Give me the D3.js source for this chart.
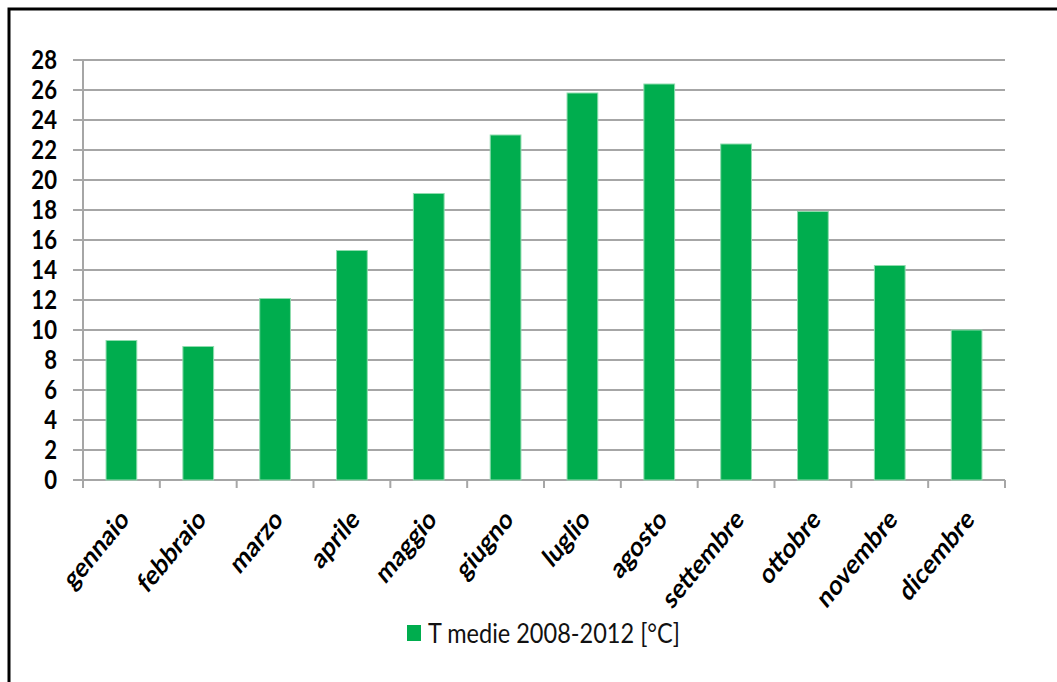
<!DOCTYPE html>
<html>
<head>
<meta charset="utf-8">
<script src="https://cdn.jsdelivr.net/npm/d3@7"></script>
<style>
  body { margin: 0; background: #fff; }
  svg { display: block; }
</style>
</head>
<body>
<svg id="chart" width="1057" height="682"></svg>
<script>
// Monthly mean temperatures, 2008-2012
const months = ["gennaio", "febbraio", "marzo", "aprile", "maggio", "giugno",
                "luglio", "agosto", "settembre", "ottobre", "novembre", "dicembre"];
const temps = [9.3, 8.9, 12.1, 15.3, 19.1, 23.0, 25.8, 26.4, 22.4, 17.9, 14.3, 10.0];
const yTicks = [0, 2, 4, 6, 8, 10, 12, 14, 16, 18, 20, 22, 24, 26, 28];
const seriesName = "T medie 2008-2012 [°C]";

const svg = d3.select("#chart");
const plot = { left: 83, right: 1005, top: 60, bottom: 480 };
const green = "#00ad4e";
const grid = "#a6a6a6";
const squeeze = 0.82; // narrow glyphs horizontally

const x = d3.scaleBand()
  .domain(months)
  .range([plot.left, plot.right])
  .paddingInner(0.6)
  .paddingOuter(0.3);

const y = d3.scaleLinear()
  .domain([0, 28])
  .range([plot.bottom, plot.top]);

// frame
svg.append("rect")
  .attr("x", 9).attr("y", 9)
  .attr("width", 1200).attr("height", 1000)
  .attr("fill", "none").attr("stroke", "#000").attr("stroke-width", 3);

// horizontal gridlines with left tick marks
svg.append("g").selectAll("line")
  .data(yTicks)
  .join("line")
  .attr("x1", plot.left - 10).attr("x2", plot.right)
  .attr("y1", d => y(d)).attr("y2", d => y(d))
  .attr("stroke", grid).attr("stroke-width", 2);

// value axis line
svg.append("line")
  .attr("x1", plot.left).attr("x2", plot.left)
  .attr("y1", y(28)).attr("y2", y(0) + 8)
  .attr("stroke", grid).attr("stroke-width", 2);

// category tick marks at band boundaries
const step = x.step();
const bounds = d3.range(months.length + 1).map(i => plot.left + i * step);
svg.append("g").selectAll("line")
  .data(bounds)
  .join("line")
  .attr("x1", d => d).attr("x2", d => d)
  .attr("y1", y(0)).attr("y2", y(0) + 8)
  .attr("stroke", grid).attr("stroke-width", 2);

// y tick labels
svg.append("g").selectAll("text")
  .data(yTicks)
  .join("text")
  .attr("transform", d => `translate(57,${y(d) + 9}) scale(${squeeze},1)`)
  .attr("text-anchor", "end")
  .attr("font-family", "Lato, 'Open Sans', sans-serif")
  .attr("font-weight", 700)
  .attr("font-size", 27)
  .attr("fill", "#000")
  .text(d => d);

// bars
svg.append("g").selectAll("rect")
  .data(months.map((m, i) => ({ m, v: temps[i] })))
  .join("rect")
  .attr("x", d => x(d.m))
  .attr("y", d => y(d.v))
  .attr("width", x.bandwidth())
  .attr("height", d => y(0) - y(d.v))
  .attr("fill", green)
  .attr("stroke", "#8fdcae")
  .attr("stroke-width", 1);

// category labels, rotated
svg.append("g").selectAll("text")
  .data(months)
  .join("text")
  .attr("transform", d => `translate(${x(d) + x.bandwidth() / 2 + 9},${plot.bottom + 41}) scale(${squeeze},1) rotate(-45)`)
  .attr("text-anchor", "end")
  .attr("font-family", "Lato, 'Open Sans', sans-serif")
  .attr("font-weight", 700)
  .attr("font-size", 28)
  .attr("fill", "#000")
  .text(d => d);

// legend
const legend = svg.append("g");
legend.append("rect")
  .attr("x", 407).attr("y", 625)
  .attr("width", 14).attr("height", 16)
  .attr("fill", green);
legend.append("text")
  .attr("x", 428).attr("y", 643)
  .attr("font-family", "Lato, 'Open Sans', sans-serif")
  .attr("font-size", 27)
  .attr("textLength", 252)
  .attr("lengthAdjust", "spacingAndGlyphs")
  .attr("fill", "#111")
  .text(seriesName);
</script>
</body>
</html>
